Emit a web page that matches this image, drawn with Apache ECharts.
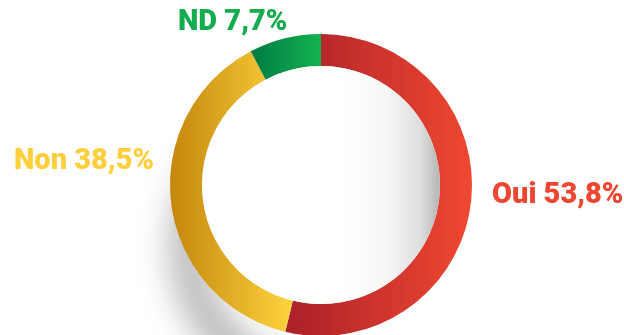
<!DOCTYPE html>
<html>
<head>
<meta charset="utf-8">
<style>
  html, body { margin: 0; padding: 0; background: #ffffff; }
  #chart { width: 624px; height: 335px; }
</style>
<script src="https://cdn.jsdelivr.net/npm/echarts@6/dist/echarts.min.js"></script>
</head>
<body>
<div id="chart"></div>
<script>
// Survey answers and their shares (percent)
const categories = ['Oui', 'Non', 'ND'];
const shares = [53.8, 38.5, 7.7];

// Horizontal gradient per slice: dark on the left, light on the right
const gradientStops = [
  ['#ab2029', '#f04831'],
  ['#c4870c', '#ffd33e'],
  ['#007a44', '#14b34f']
];
const labelColors = ['#ee4631', '#ffcf3d', '#13ad4f'];

// Where each label sits
const labelSpots = [
  { x: 492, y: 196 },
  { x: 14, y: 162 },
  { x: 178, y: 23 }
];

const CENTER = [321, 185];
const INNER = 119;
const OUTER = 151;

const chart = echarts.init(document.getElementById('chart'), null, { renderer: 'canvas' });

const data = categories.map((name, i) => {
  const style = {
    color: new echarts.graphic.LinearGradient(0, 0, 1, 0, [
      { offset: 0, color: gradientStops[i][0] },
      { offset: 1, color: gradientStops[i][1] }
    ])
  };
  // the left slice casts a soft shadow onto the ground below
  if (name === 'Non') {
    Object.assign(style, {
      shadowColor: 'rgba(0,0,0,0.32)',
      shadowBlur: 34,
      shadowOffsetX: 2,
      shadowOffsetY: 62
    });
  }
  return { name: name, value: shares[i], itemStyle: style, label: { color: labelColors[i] } };
});

chart.setOption({
  backgroundColor: '#ffffff',
  animation: false,
  series: [
    {
      type: 'pie',
      z: 2,
      center: CENTER,
      radius: [INNER, OUTER],
      startAngle: 90,
      clockwise: true,
      silent: true,
      itemStyle: { borderWidth: 0 },
      label: {
        show: true,
        position: 'outside',
        fontFamily: 'Roboto',
        fontWeight: 900,
        fontSize: 29,
        overflow: 'none',
        formatter: p => p.name + ' ' + p.value.toFixed(1).replace('.', ',') + '%'
      },
      labelLine: { show: false },
      labelLayout: params => {
        const s = labelSpots[params.dataIndex];
        return { x: s.x, y: s.y, align: 'left', verticalAlign: 'middle', moveOverlap: false };
      },
      data: data
    },
    {
      // the hole, lightly shaded towards its right edge
      type: 'pie',
      z: 3,
      center: CENTER,
      radius: [0, INNER],
      silent: true,
      label: { show: false },
      labelLine: { show: false },
      itemStyle: {
        borderWidth: 0,
        color: new echarts.graphic.LinearGradient(0, 0, 1, 0, [
          { offset: 0, color: '#ffffff' },
          { offset: 0.6, color: '#ffffff' },
          { offset: 0.78, color: '#f6f6f6' },
          { offset: 0.92, color: '#dedede' },
          { offset: 1, color: '#b4b4b4' }
        ])
      },
      data: [{ name: 'hole', value: 1 }]
    }
  ]
});
</script>
</body>
</html>
